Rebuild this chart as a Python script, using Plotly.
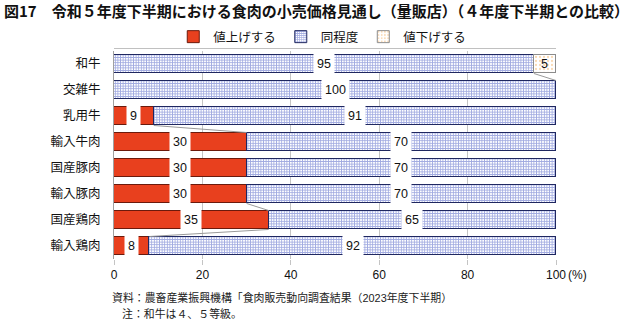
import plotly.graph_objects as go

categories = ["和牛", "交雑牛", "乳用牛", "輸入牛肉", "国産豚肉", "輸入豚肉", "国産鶏肉", "輸入鶏肉"]
series_names = ["値上げする", "同程度", "値下げする"]
up = [0, 0, 9, 30, 30, 30, 35, 8]
same = [95, 100, 91, 70, 70, 70, 65, 92]
down = [5, 0, 0, 0, 0, 0, 0, 0]
tick_vals = [0, 20, 40, 60, 80, 100]
tick_text = ["0", "20", "40", "60", "80", "100"]

title_text = "図17　令和５年度下半期における食肉の小売価格見通し（量販店）（４年度下半期との比較）"
note1 = "資料：農畜産業振興機構「食肉販売動向調査結果（2023年度下半期）"
note2 = "注：和牛は４、５等級。"

W, H = 640, 325
L, R, T, B = 113.5, 84, 51, 65.6
PW, PH = W - L - R, H - T - B


def px_x(p):
    return (p - L) / PW


def px_y(p):
    return 1 - (p - T) / PH


FONT = "Liberation Sans, Arial, Noto Sans CJK JP, sans-serif"
ypos = list(range(len(categories)))
BW = 0.73
series = [up, same, down]

styles = [
    dict(color="#e8401e", line=dict(color="#6b1a0c", width=1)),
    dict(color="#dfe2f5", line=dict(color="#1f2760", width=1),
         pattern=dict(shape="+", fgcolor="#4355c2", bgcolor="white", size=2.6, solidity=0.55)),
    dict(color="white", line=dict(color="#8c8c8c", width=1),
         pattern=dict(shape=".", fgcolor="#f3b46a", bgcolor="white", size=4, solidity=0.25)),
]

fig = go.Figure()
for name, vals, st in zip(series_names, series, styles):
    fig.add_trace(go.Bar(
        x=[v if v > 0 else None for v in vals], y=ypos, orientation="h",
        name=name, marker=st, width=BW, hoverinfo="skip"))

# cumulative ends / label positions
ends = []
cum = [0] * len(categories)
for vals in series:
    e = []
    for i, v in enumerate(vals):
        mid = cum[i] + v / 2
        if v > 0:
            fig.add_annotation(x=mid, y=i, xref="x", yref="y", text=str(v), showarrow=False,
                               font=dict(size=12.5, color="#111", family=FONT),
                               bgcolor="white" if vals is not down else "rgba(0,0,0,0)",
                               borderpad=3)
        cum[i] += v
        e.append(cum[i])
    ends.append(e)

# series connector lines
for s, vals in enumerate(series):
    for i in range(len(categories) - 1):
        if vals[i] > 0 and vals[i + 1] > 0 and ends[s][i] != ends[s][i + 1]:
            fig.add_shape(type="line", xref="x", yref="y",
                          x0=ends[s][i], y0=i + BW / 2, x1=ends[s][i + 1], y1=i + 1 - BW / 2,
                          line=dict(color="#9a9a9a", width=1))

# top border line
fig.add_shape(type="line", xref="x", yref="paper", x0=0, x1=100, y0=1.012, y1=1.012,
              line=dict(color="#c0c0c0", width=1))

fig.add_annotation(x=100, y=px_y(275.5), xref="x", yref="paper", text="(%)", showarrow=False,
                   xanchor="left", yanchor="middle", xshift=10,
                   font=dict(size=12, color="#111", family=FONT))

fig.add_annotation(x=px_x(109), y=px_y(298), xref="paper", yref="paper", text=note1,
                   showarrow=False, xanchor="left", yanchor="middle",
                   font=dict(size=10.9, color="#222", family=FONT))
fig.add_annotation(x=px_x(120), y=px_y(314), xref="paper", yref="paper", text=note2,
                   showarrow=False, xanchor="left", yanchor="middle",
                   font=dict(size=10.9, color="#222", family=FONT))

fig.update_layout(
    width=W, height=H,
    margin=dict(l=L, r=R, t=T, b=B, pad=0),
    paper_bgcolor="white", plot_bgcolor="white",
    barmode="stack", bargap=0,
    font=dict(family=FONT, color="#111"),
    title=dict(text="<b>" + title_text + "</b>", x=4 / W, xanchor="left", xref="container",
               y=1 - 12 / H, yanchor="middle", yref="container",
               font=dict(size=15, family="Noto Sans CJK JP, sans-serif", color="#111")),
    showlegend=True,
    legend=dict(orientation="h", x=px_x(322), xanchor="center", y=px_y(37), yanchor="middle",
                font=dict(size=12.5, family=FONT), traceorder="normal", itemwidth=30,
                bgcolor="rgba(0,0,0,0)"),
    xaxis=dict(range=[0, 100], tickvals=tick_vals, ticktext=tick_text, showgrid=True,
               gridcolor="#c4c4c4", gridwidth=1, zeroline=False, showline=False,
               ticks="outside", ticklen=5, tickcolor="#c4c4c4",
               tickfont=dict(size=12, family=FONT, color="#111"), fixedrange=True),
    yaxis=dict(range=[7.5, -0.5], tickvals=ypos, ticktext=categories, showgrid=False,
               zeroline=False, showline=True, linecolor="#a0a0a0", linewidth=1,
               ticks="", ticklabelstandoff=10,
               tickfont=dict(size=12.5, family="Noto Sans CJK JP, sans-serif", color="#111"),
               fixedrange=True),
)

fig.write_html("out.html")
